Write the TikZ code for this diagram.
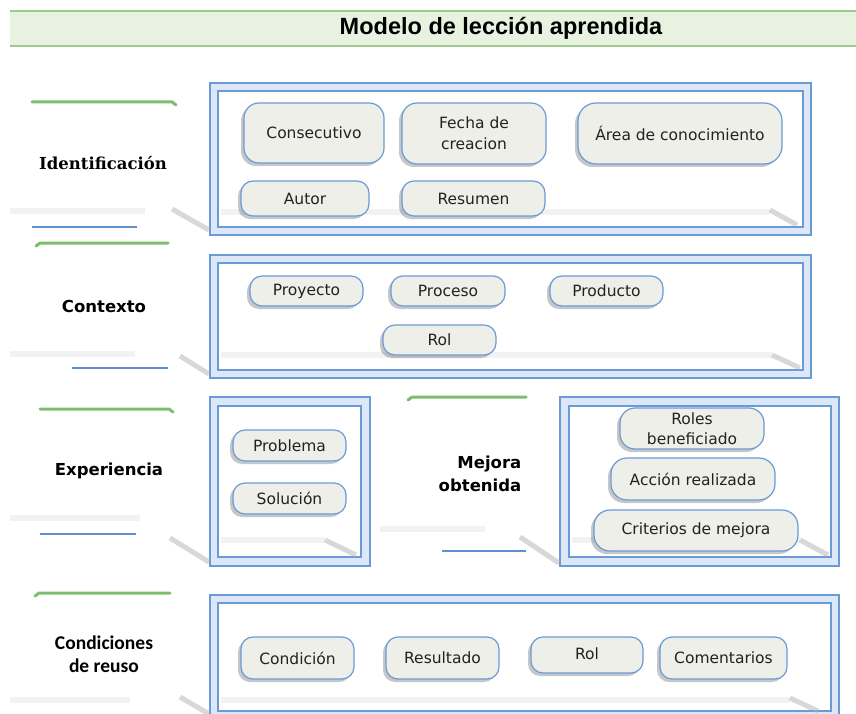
\documentclass[tikz,border=0pt]{standalone}
\usepackage{fontspec}
\setmainfont{DejaVu Sans}
\newfontfamily\titlefont{Liberation Sans}
\newfontfamily\serifbold{DejaVu Serif}
\newfontfamily\narrowfont{Carlito}
\usetikzlibrary{shadows}
\definecolor{bluebd}{HTML}{6A9BD6}
\definecolor{bluefill}{HTML}{DCE7F8}
\definecolor{pillfill}{HTML}{EDEFE8}
\definecolor{greenln}{HTML}{7DBE6E}
\definecolor{titlefill}{HTML}{E7F3E0}
\definecolor{titleln}{HTML}{9ACB8B}
\definecolor{blueln}{HTML}{5E90D0}
\definecolor{pilltext}{HTML}{222222}
\tikzset{
  outerbox/.style={draw=bluebd, line width=1.6pt, fill=bluefill},
  innerbox/.style={draw=bluebd, line width=1.6pt, fill=white},
  pill/.style={draw=bluebd, line width=1.2pt, fill=pillfill, rounded corners=12pt,
    inner sep=0pt, align=center, text=pilltext,
    font=\fontsize{15.5}{15}\selectfont,
    drop shadow={shadow xshift=-3pt, shadow yshift=-3pt, fill=black, opacity=0.22}},
  greenline/.style={draw=greenln, line width=3pt, line cap=round, line join=round},
  blueline/.style={draw=blueln, line width=2pt},
  band/.style={draw=black!5, line width=6pt},
  diag/.style={draw=black!30, line width=5pt, opacity=0.5},
  seclabel/.style={font=\bfseries\fontsize{16.5}{22}\selectfont, align=center}
}
\begin{document}
\begin{tikzpicture}[x=1pt,y=-1pt]
\path[use as bounding box] (0,0) rectangle (856,714);
\fill[white] (0,0) rectangle (856,714);
% title band
\fill[titlefill] (10,11) rectangle (856,46);
\draw[titleln, line width=2pt] (10,11) -- (856,11);
\draw[titleln, line width=2pt] (10,46) -- (856,46);
\node[font=\titlefont\bfseries\fontsize{23.5}{26}\selectfont] (title) at (501,28) {Modelo de lección aprendida};

% ---------- section boxes
\draw[outerbox] (210,83) rectangle (811,235);
\draw[innerbox] (218,91) rectangle (803,227);
\draw[outerbox] (210,255) rectangle (811,378);
\draw[innerbox] (218,263) rectangle (803,370);
\draw[outerbox] (210,397) rectangle (370,566);
\draw[innerbox] (218,406) rectangle (361,557);
\draw[outerbox] (560,397) rectangle (839,566);
\draw[innerbox] (569,406) rectangle (831,557);
\draw[outerbox] (210,595) rectangle (839,720);
\draw[innerbox] (218,603) rectangle (831,711);

% ---------- shadow bands
\draw[band] (10,211) -- (145,211);
\draw[band] (221,212) -- (770,212);
\draw[diag] (172,209) -- (209,230);
\draw[diag] (770,210) -- (797,225);
\draw[band] (10,354) -- (135,354);
\draw[band] (221,355) -- (772,355);
\draw[diag] (180,356) -- (209,374);
\draw[diag] (772,355) -- (800,368);
\draw[band] (10,518) -- (140,518);
\draw[band] (221,540) -- (325,540);
\draw[diag] (170,538) -- (209,562);
\draw[diag] (325,540) -- (356,555);
\draw[band] (380,529) -- (485,529);
\draw[diag] (520,537) -- (559,563);
\draw[band] (572,540) -- (800,540);
\draw[diag] (800,540) -- (828,555);
\draw[band] (10,700) -- (130,700);
\draw[band] (221,700) -- (790,700);
\draw[diag] (180,697) -- (209,714);
\draw[diag] (790,698) -- (818,711);

% ---------- green and blue lines
\draw[greenline] (32,102) -- (172,102) -- (176,105);
\draw[blueline] (32,227) -- (137,227);
\draw[greenline] (36,246) -- (40,243) -- (168,243);
\draw[blueline] (72,368) -- (168,368);
\draw[greenline] (40,409) -- (169,409) -- (173,412);
\draw[blueline] (40,534) -- (136,534);
\draw[greenline] (408,400) -- (412,397) -- (526,397);
\draw[blueline] (442,551) -- (526,551);
\draw[greenline] (35,596) -- (39,593) -- (170,593);

% ---------- section labels
\node[font=\serifbold\bfseries\fontsize{16.5}{20}\selectfont] (lid) at (103,163) {Identificación};
\node[seclabel] (lctx) at (104,306) {Contexto};
\node[seclabel] (lexp) at (109,471) {Experiencia};
\node[seclabel, align=right, font=\bfseries\fontsize{16.5}{23}\selectfont] (lmej) at (480,474) {Mejora\\obtenida};
\node[align=center, font=\narrowfont\bfseries\fontsize{19.5}{23}\selectfont] (lcond) at (104,654) {Condiciones\\de reuso};

% ---------- pills
\node[pill, rounded corners=15pt, minimum width=140pt, minimum height=60pt] (consec) at (314,133) {Consecutivo};
\node[pill, rounded corners=15pt, minimum width=144pt, minimum height=61pt, font=\fontsize{15.5}{21}\selectfont] (fecha) at (474,133.5) {Fecha de\\creacion};
\node[pill, rounded corners=18pt, minimum width=204pt, minimum height=61pt] (area) at (680,133.5) {Área de conocimiento};
\node[pill, minimum width=128pt, minimum height=35pt] (autor) at (305,198.5) {Autor};
\node[pill, minimum width=143pt, minimum height=35pt] (resumen) at (473.5,198.5) {Resumen};

\node[pill, minimum width=113pt, minimum height=30pt] (proyecto) at (306.5,291) {Proyecto};
\node[pill, minimum width=114pt, minimum height=30pt] (proceso) at (448,291) {Proceso};
\node[pill, minimum width=113pt, minimum height=30pt] (producto) at (606.5,291) {Producto};
\node[pill, minimum width=113pt, minimum height=30pt] (rolctx) at (439.5,340) {Rol};

\node[pill, minimum width=113pt, minimum height=31pt] (problema) at (289.5,445.5) {Problema};
\node[pill, minimum width=113pt, minimum height=31pt] (solucion) at (289.5,498.5) {Solución};

\node[pill, rounded corners=15pt, minimum width=144pt, minimum height=41pt] (roles) at (692,428.5) {};
\node[font=\fontsize{15.5}{20}\selectfont, text=pilltext, align=center] (rolestxt) at (roles.center) {Roles\\beneficiado};
\node[pill, rounded corners=16pt, minimum width=164pt, minimum height=42pt] (accion) at (693,479) {Acción realizada};
\node[pill, rounded corners=16pt, minimum width=204pt, minimum height=41pt] (criterios) at (696,530.5) {Criterios de mejora};

\node[pill, minimum width=113pt, minimum height=42pt] (condicion) at (297.5,658) {Condición};
\node[pill, minimum width=113pt, minimum height=42pt] (resultado) at (442.5,658) {Resultado};
\node[pill, minimum width=112pt, minimum height=36pt] (rolreuso) at (587,655) {\raisebox{2pt}{Rol}};
\node[pill, minimum width=127pt, minimum height=42pt] (coment) at (723.5,658) {Comentarios};
\end{tikzpicture}
\end{document}
